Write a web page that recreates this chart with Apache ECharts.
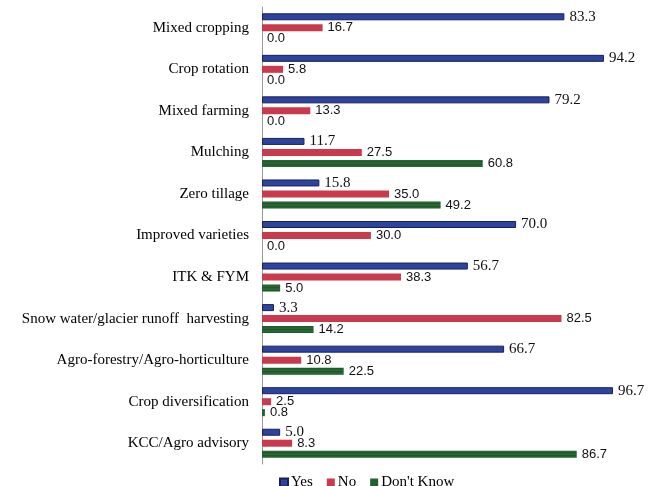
<!DOCTYPE html>
<html>
<head>
<meta charset="utf-8">
<script src="https://cdn.jsdelivr.net/npm/echarts@6/dist/echarts.min.js"></script>
<style>html,body{margin:0;padding:0;background:#fff}#c{width:655px;height:486px}</style>
</head>
<body>
<div id="c"></div>
<script>
const categories = ["Mixed cropping","Crop rotation","Mixed farming","Mulching","Zero tillage","Improved varieties","ITK & FYM","Snow water/glacier runoff  harvesting","Agro-forestry/Agro-horticulture","Crop diversification","KCC/Agro advisory"];
const yesValues = [83.3,94.2,79.2,11.7,15.8,70.0,56.7,3.3,66.7,96.7,5.0];
const noValues = [16.7,5.8,13.3,27.5,35.0,30.0,38.3,82.5,10.8,2.5,8.3];
const dontKnowValues = [0.0,0.0,0.0,60.8,49.2,0.0,5.0,14.2,22.5,0.8,86.7];
const seriesNames = ["Yes","No","Don't Know"];

const chart = echarts.init(document.getElementById('c'));
const serifLbl = {show:true, position:'right', distance:5, fontFamily:'Liberation Serif', fontSize:15, color:'#111', formatter:p=>p.value.toFixed(1)};
const sansLbl = {show:true, position:'right', distance:5, fontFamily:'Liberation Sans', fontSize:13, color:'#111', formatter:p=>p.value.toFixed(1)};
chart.setOption({
  animation:false,
  grid:{left:262, top:7, width:363, height:457},
  xAxis:{type:'value', min:0, max:100, show:false},
  yAxis:{type:'category', data:categories, inverse:true,
    axisLine:{show:true, lineStyle:{color:'#999', width:1}},
    axisTick:{show:false},
    axisLabel:{fontFamily:'Liberation Serif', fontSize:15, color:'#000', margin:13}},
  legend:{top:470, left:274, itemWidth:8, itemHeight:8, itemGap:14,
    textStyle:{fontFamily:'Liberation Serif', fontSize:15, color:'#000', padding:[0,0,0,-2]},
    data:seriesNames.map(n=>({name:n, icon:'rect'}))},
  series:[
    {name:seriesNames[0], type:'bar', data:yesValues, barWidth:7, barGap:'57%',
     itemStyle:{color:'#2C44A0', borderColor:'#1B2050', borderWidth:1}, label:serifLbl},
    {name:seriesNames[1], type:'bar', data:noValues, barWidth:7, barGap:'57%',
     itemStyle:{color:'#C93A4D'}, label:sansLbl},
    {name:seriesNames[2], type:'bar', data:dontKnowValues, barWidth:7, barGap:'57%',
     itemStyle:{color:'#1D5A2A',
       decal:{symbol:'circle', symbolSize:0.5, color:'rgba(140,190,120,0.6)', dashArrayX:[2,0], dashArrayY:[2,1], rotation:0}},
     label:sansLbl}
  ]
});
</script>
</body>
</html>
